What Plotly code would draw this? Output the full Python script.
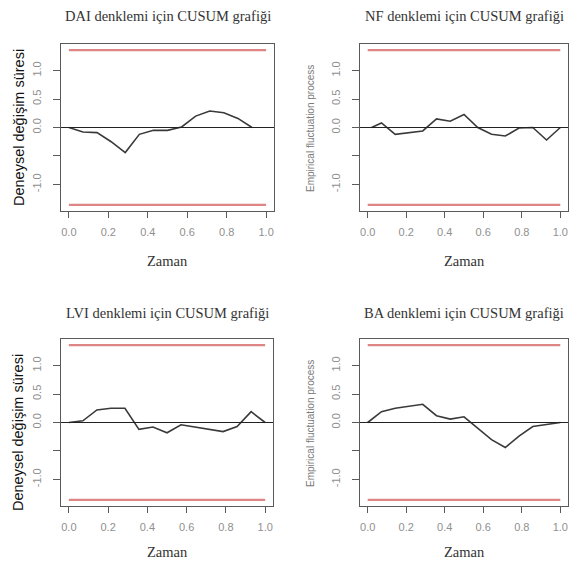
import plotly.graph_objects as go

# ---- data ----
t14 = [0, 1/14, 2/14, 3/14, 4/14, 5/14, 6/14, 7/14, 8/14, 9/14, 10/14, 11/14, 12/14, 13/14, 1.0]

dai_t = t14[:14]
dai_v = [0.0, -0.08, -0.09, -0.25, -0.44, -0.12, -0.05, -0.05, 0.01, 0.20, 0.29, 0.26, 0.16, 0.0]

nf_t = [0.02] + t14[1:]
nf_v = [0.0, 0.08, -0.12, -0.09, -0.06, 0.15, 0.11, 0.23, 0.0, -0.12, -0.15, -0.01, 0.0, -0.22, 0.0]

lvi_t = t14
lvi_v = [0.0, 0.03, 0.22, 0.25, 0.25, -0.12, -0.08, -0.18, -0.04, -0.08, -0.13, -0.16, -0.07, 0.19, 0.0]

ba_t = t14
ba_v = [0.0, 0.19, 0.25, 0.28, 0.32, 0.12, 0.06, 0.10, -0.10, -0.30, -0.44, -0.24, -0.07, -0.04, 0.0]

boundary = 1.36
titles = ["DAI denklemi için CUSUM grafiği", "NF denklemi için CUSUM grafiği",
          "LVI denklemi için CUSUM grafiği", "BA denklemi için CUSUM grafiği"]
ylabels = ["Deneysel değişim süresi", "Empirical fluctuation process",
           "Deneysel değişim süresi", "Empirical fluctuation process"]
xlabel = "Zaman"
xticks = [0, 0.2, 0.4, 0.6, 0.8, 1.0]
xticktext = ["0.0", "0.2", "0.4", "0.6", "0.8", "1.0"]
yticks = [-1.0, -0.5, 0.0, 0.5, 1.0]
yticktext = ["-1.0", "", "0.0", "0.5", "1.0"]

series = [(dai_t, dai_v), (nf_t, nf_v), (lvi_t, lvi_v), (ba_t, ba_v)]

# page body has an 8px margin; size the figure so it fills the 577x565 window
OFF = 8
W, H = 577 - OFF, 565 - OFF
# panel boxes in window pixels (left, right, top, bottom)
boxes = [(61, 274, 44, 211), (360, 568, 44, 211), (61, 273, 339, 506), (360, 568, 339, 506)]
title_y = [16, 16, 313, 313]
xlab_y = [261, 261, 552, 552]
ylab_pos = [(19, 128), (310, 128), (18, 433), (310, 423)]

fig = go.Figure()
layout = dict(width=W, height=H, margin=dict(l=0, r=0, t=0, b=0),
              paper_bgcolor="white", plot_bgcolor="white", showlegend=False)
annotations = []
shapes = []

RED = "#de8585"
GRAY_TXT = "#8f8f8f"
FRAME = "#5a5a5a"

def px(x):
    return (x - OFF) / W

def py(y):
    return 1 - (y - OFF) / H

for i, ((L, R, T, B), (tx, vy)) in enumerate(zip(boxes, series)):
    n = i + 1
    xa = "x" if n == 1 else f"x{n}"
    ya = "y" if n == 1 else f"y{n}"
    xkey = "xaxis" if n == 1 else f"xaxis{n}"
    ykey = "yaxis" if n == 1 else f"yaxis{n}"
    layout[xkey] = dict(domain=[px(L), px(R)], range=[-0.04, 1.04], anchor=ya,
                        showgrid=False, zeroline=False, showline=True, mirror=True,
                        linecolor=FRAME, linewidth=1.2, ticks="outside", ticklen=6,
                        tickcolor=FRAME, tickvals=xticks, ticktext=xticktext,
                        tickfont=dict(family="Liberation Sans", size=11, color=GRAY_TXT),
                        ticklabelstandoff=5)
    layout[ykey] = dict(domain=[py(B), py(T)], range=[-1.467, 1.467], anchor=xa,
                        showgrid=False, zeroline=False, showline=True, mirror=True,
                        linecolor=FRAME, linewidth=1.2, ticks="outside", ticklen=7,
                        tickcolor=FRAME, tickvals=yticks, ticktext=yticktext, tickangle=-90,
                        tickfont=dict(family="Liberation Sans", size=11, color=GRAY_TXT),
                        ticklabelstandoff=8)
    # boundaries
    for s in (1, -1):
        fig.add_trace(go.Scatter(x=[0, 1], y=[s * boundary, s * boundary], mode="lines",
                                 line=dict(color=RED, width=2.2), xaxis=xa, yaxis=ya,
                                 hoverinfo="skip"))
    # zero line across full box
    shapes.append(dict(type="line", xref=f"{xa} domain", yref=ya, x0=0, x1=1, y0=0, y1=0,
                       line=dict(color="#222222", width=1.2)))
    fig.add_trace(go.Scatter(x=tx, y=vy, mode="lines", line=dict(color="#3a3a3a", width=1.6),
                             xaxis=xa, yaxis=ya))
    cx = px((L + R) / 2)
    annotations.append(dict(text=titles[i], x=cx, y=py(title_y[i]), xref="paper", yref="paper",
                            showarrow=False, xanchor="center", yanchor="middle",
                            font=dict(family="Liberation Serif", size=14.5, color="#333333")))
    annotations.append(dict(text=xlabel, x=cx, y=py(xlab_y[i]), xref="paper", yref="paper",
                            showarrow=False, xanchor="center", yanchor="middle",
                            font=dict(family="Liberation Serif", size=14.5, color="#333333")))
    lx, ly = ylab_pos[i]
    if i % 2 == 0:
        font = dict(family="Liberation Sans", size=14.5, color="#111111")
    else:
        font = dict(family="Liberation Sans", size=10, color="#7a7a7a")
    annotations.append(dict(text=ylabels[i], x=px(lx), y=py(ly), xref="paper", yref="paper",
                            showarrow=False, textangle=-90, xanchor="center", yanchor="middle",
                            font=font))

layout["annotations"] = annotations
layout["shapes"] = shapes
fig.update_layout(**layout)
fig.write_html("out.html")
